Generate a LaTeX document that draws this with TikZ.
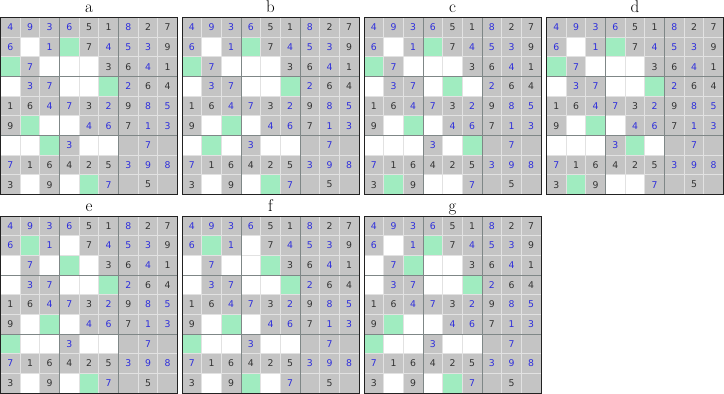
\documentclass[tikz,border=0pt]{standalone}
\usepackage{fontspec}
\newfontfamily\digfont{DejaVu Sans}
\definecolor{fillB}{HTML}{C4C4C4}
\definecolor{fillK}{HTML}{C4C4C4}
\definecolor{fillG}{HTML}{C4C4C4}
\definecolor{fillW}{HTML}{FFFFFF}
\definecolor{txtB}{HTML}{2E2EDC}
\definecolor{txtK}{HTML}{333333}
\definecolor{txtG}{HTML}{333333}
\definecolor{txtW}{HTML}{333333}
\definecolor{cellline}{HTML}{E2E2E2}
\definecolor{greencell}{HTML}{A0ECC0}
\definecolor{blockcol}{HTML}{7F8787}
\definecolor{bordercol}{HTML}{222222}
\tikzset{
  digit/.style={inner sep=0pt, font=\digfont\fontsize{9.3}{9.3}\selectfont},
  gridlabel/.style={anchor=base, inner sep=0pt, font=\fontsize{17}{17}\selectfont},
  blockline/.style={draw=blockcol, line width=1pt},
  gridborder/.style={draw=bordercol, line width=1pt},
}
\def\cs{19.6667}
\def\sudokudata{%
{B/4,B/9,B/3,B/6,K/5,K/1,B/8,K/2,K/7},%
{B/6,W/0,B/1,W/0,K/7,B/4,B/5,B/3,K/9},%
{W/0,B/7,W/0,W/0,W/0,K/3,K/6,B/4,K/1},%
{W/0,B/3,B/7,W/0,W/0,W/0,B/2,K/6,K/4},%
{K/1,K/6,B/4,B/7,K/3,B/2,K/9,B/8,B/5},%
{K/9,W/0,W/0,W/0,B/4,B/6,K/7,B/1,B/3},%
{W/0,W/0,W/0,B/3,W/0,W/0,G/0,B/7,G/0},%
{B/7,K/1,K/6,K/4,K/2,K/5,B/3,B/9,B/8},%
{K/3,W/0,K/9,W/0,W/0,B/7,G/0,K/5,G/0}}
\newcommand\sudokugrid[4]{%
\begin{scope}[shift={(#2,#3)}]
  \node[gridlabel] (lab#1) at (88.5,-5) {#1};
  \fill[cellline] (0,0) rectangle (177,177);
  \foreach \rowdata [count=\r] in \sudokudata {
    \foreach \t/\d [count=\c] in \rowdata {
      \fill[fill\t] ({(\c-1)*\cs+0.5},{(\r-1)*\cs+0.5}) rectangle ({\c*\cs-0.5},{\r*\cs-0.5});
      \if\t W\else\if\t G\else
        \node[digit,text=txt\t] (#1-\r-\c) at ({(\c-0.5)*\cs},{(\r-0.5)*\cs}) {\d};
      \fi\fi
    }
  }
  \foreach \gr/\gc in {#4} {
    \fill[greencell] ({(\gc-1)*\cs+0.5},{(\gr-1)*\cs+0.5}) rectangle ({\gc*\cs-0.5},{\gr*\cs-0.5});
  }
  \draw[blockline] (59,0) -- (59,177) (118,0) -- (118,177) (0,59) -- (177,59) (0,118) -- (177,118);
  \draw[gridborder] (0,0) rectangle (177,177);
\end{scope}}
\begin{document}
\begin{tikzpicture}[x=1pt,y=-1pt]
\useasboundingbox (0,0) rectangle (724,394);
\sudokugrid{a}{0.5}{17.5}{2/4,3/1,4/6,6/2,7/3,9/5}
\sudokugrid{b}{182}{17.5}{2/4,3/1,4/6,6/3,7/2,9/5}
\sudokugrid{c}{364}{17.5}{2/4,3/1,4/5,6/3,7/6,9/2}
\sudokugrid{d}{546.5}{17.5}{2/4,3/1,4/6,6/3,7/5,9/2}
\sudokugrid{e}{0.5}{216}{2/2,3/4,4/6,6/3,7/1,9/5}
\sudokugrid{f}{182}{216}{2/2,3/5,4/6,6/3,7/1,9/4}
\sudokugrid{g}{364}{216}{2/4,3/3,4/6,6/2,7/1,9/5}
\end{tikzpicture}
\end{document}
